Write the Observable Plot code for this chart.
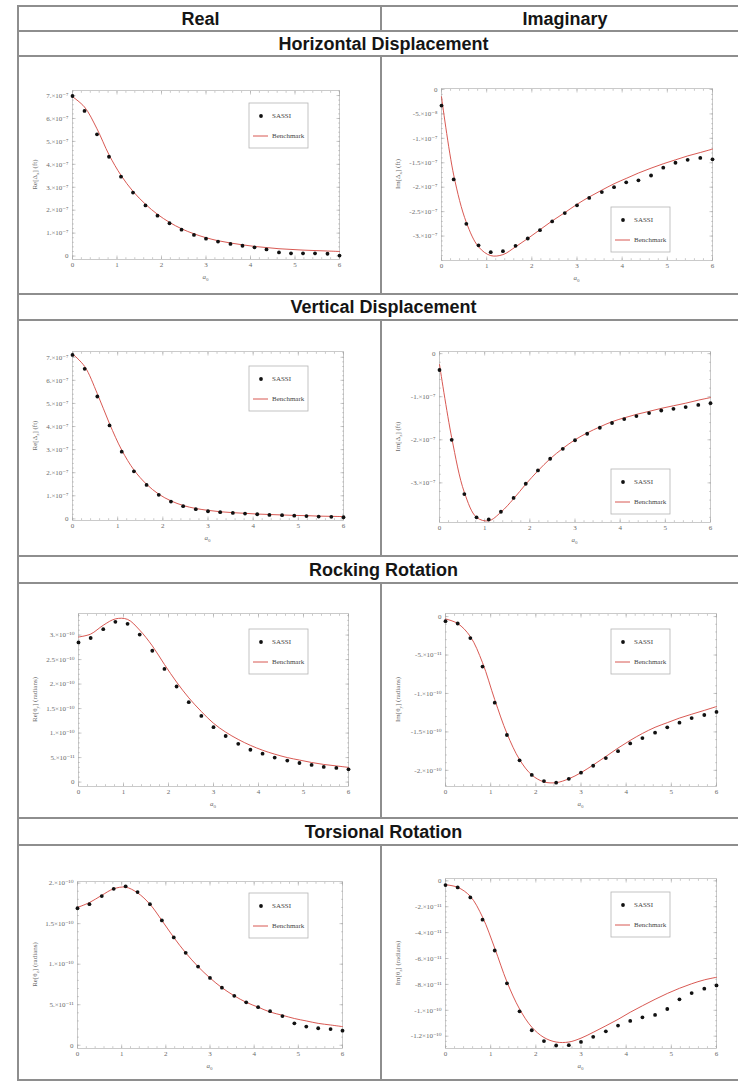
<!DOCTYPE html>
<html>
<head>
<meta charset="utf-8">
<script src="https://cdn.jsdelivr.net/npm/d3@7"></script>
<script src="https://cdn.jsdelivr.net/npm/@observablehq/plot@0.6"></script>
<style>
  body { margin: 0; background: #fff; }
  #page { position: relative; width: 738px; height: 1082px; overflow: hidden; background: #fff;
          font-family: "Liberation Sans", Arial, Helvetica, sans-serif; }
  .hline { position: absolute; height: 2px; background: #8e8e8e; }
  .vline { position: absolute; width: 2px; background: #8e8e8e; }
  .head { position: absolute; font-weight: bold; font-size: 18px; color: #151515;
          white-space: nowrap; transform: translate(-50%, -50%); line-height: 1; }
  .cell { position: absolute; }
  .cell svg { display: block; }
</style>
</head>
<body>
<div id="page"></div>
<script>
// Dimensionless frequency a0 at which both solutions are sampled
const a0 = [0, 0.27, 0.55, 0.82, 1.09, 1.36, 1.64, 1.91, 2.18, 2.45, 2.73, 3.0,
            3.27, 3.55, 3.82, 4.09, 4.36, 4.64, 4.91, 5.18, 5.45, 5.73, 6.0];

// Horizontal displacement (ft)
const horizRealSassi = [6.98e-7, 6.33e-7, 5.31e-7, 4.33e-7, 3.46e-7, 2.77e-7, 2.21e-7, 1.76e-7, 1.43e-7, 1.15e-7, 0.92e-7, 0.76e-7,
                        0.63e-7, 0.53e-7, 0.45e-7, 0.38e-7, 0.29e-7, 0.16e-7, 0.12e-7, 0.12e-7, 0.12e-7, 0.10e-7, 0.02e-7];
const horizRealBench = [6.95e-7, 6.50e-7, 5.55e-7, 4.42e-7, 3.52e-7, 2.82e-7, 2.26e-7, 1.82e-7, 1.47e-7, 1.19e-7, 0.97e-7, 0.80e-7,
                        0.67e-7, 0.57e-7, 0.49e-7, 0.42e-7, 0.37e-7, 0.32e-7, 0.29e-7, 0.26e-7, 0.24e-7, 0.22e-7, 0.20e-7];
const horizImagSassi = [-0.33e-7, -1.84e-7, -2.75e-7, -3.19e-7, -3.33e-7, -3.31e-7, -3.20e-7, -3.05e-7, -2.88e-7, -2.70e-7, -2.53e-7, -2.37e-7,
                        -2.22e-7, -2.10e-7, -2.00e-7, -1.90e-7, -1.86e-7, -1.76e-7, -1.60e-7, -1.50e-7, -1.44e-7, -1.40e-7, -1.43e-7];
const horizImagBench = [-0.15e-7, -1.75e-7, -2.72e-7, -3.22e-7, -3.40e-7, -3.38e-7, -3.22e-7, -3.05e-7, -2.87e-7, -2.69e-7, -2.52e-7, -2.35e-7,
                        -2.20e-7, -2.06e-7, -1.93e-7, -1.82e-7, -1.71e-7, -1.61e-7, -1.52e-7, -1.44e-7, -1.36e-7, -1.29e-7, -1.22e-7];

// Vertical displacement (ft)
const vertRealSassi = [7.10e-7, 6.50e-7, 5.30e-7, 4.05e-7, 2.91e-7, 2.06e-7, 1.47e-7, 1.04e-7, 0.75e-7, 0.55e-7, 0.42e-7, 0.33e-7,
                       0.29e-7, 0.26e-7, 0.23e-7, 0.20e-7, 0.17e-7, 0.16e-7, 0.14e-7, 0.12e-7, 0.10e-7, 0.09e-7, 0.07e-7];
const vertRealBench = [7.15e-7, 6.60e-7, 5.42e-7, 4.12e-7, 2.98e-7, 2.12e-7, 1.50e-7, 1.07e-7, 0.78e-7, 0.58e-7, 0.45e-7, 0.37e-7,
                       0.31e-7, 0.27e-7, 0.24e-7, 0.21e-7, 0.19e-7, 0.17e-7, 0.15e-7, 0.14e-7, 0.12e-7, 0.11e-7, 0.10e-7];
const vertImagSassi = [-0.38e-7, -2.00e-7, -3.26e-7, -3.80e-7, -3.85e-7, -3.67e-7, -3.35e-7, -3.02e-7, -2.71e-7, -2.44e-7, -2.21e-7, -2.01e-7,
                       -1.86e-7, -1.72e-7, -1.61e-7, -1.52e-7, -1.45e-7, -1.38e-7, -1.32e-7, -1.28e-7, -1.24e-7, -1.19e-7, -1.15e-7];
const vertImagBench = [-0.25e-7, -1.95e-7, -3.22e-7, -3.80e-7, -3.88e-7, -3.68e-7, -3.37e-7, -3.03e-7, -2.72e-7, -2.44e-7, -2.20e-7, -2.00e-7,
                       -1.84e-7, -1.70e-7, -1.58e-7, -1.49e-7, -1.41e-7, -1.34e-7, -1.27e-7, -1.21e-7, -1.15e-7, -1.08e-7, -1.02e-7];

// Rocking rotation (radians)
const rockRealSassi = [2.85e-10, 2.94e-10, 3.12e-10, 3.27e-10, 3.23e-10, 3.01e-10, 2.68e-10, 2.31e-10, 1.95e-10, 1.63e-10, 1.35e-10, 1.12e-10,
                       0.94e-10, 0.78e-10, 0.66e-10, 0.58e-10, 0.50e-10, 0.44e-10, 0.39e-10, 0.35e-10, 0.31e-10, 0.29e-10, 0.26e-10];
const rockRealBench = [2.96e-10, 3.02e-10, 3.20e-10, 3.33e-10, 3.32e-10, 3.10e-10, 2.78e-10, 2.40e-10, 2.04e-10, 1.72e-10, 1.44e-10, 1.20e-10,
                       1.02e-10, 0.87e-10, 0.75e-10, 0.65e-10, 0.57e-10, 0.50e-10, 0.45e-10, 0.40e-10, 0.36e-10, 0.33e-10, 0.30e-10];
const rockImagSassi = [-0.06e-10, -0.09e-10, -0.28e-10, -0.65e-10, -1.12e-10, -1.54e-10, -1.87e-10, -2.06e-10, -2.14e-10, -2.16e-10, -2.11e-10, -2.03e-10,
                       -1.94e-10, -1.84e-10, -1.75e-10, -1.65e-10, -1.58e-10, -1.51e-10, -1.44e-10, -1.38e-10, -1.32e-10, -1.28e-10, -1.24e-10];
const rockImagBench = [-0.03e-10, -0.09e-10, -0.26e-10, -0.60e-10, -1.08e-10, -1.52e-10, -1.86e-10, -2.06e-10, -2.15e-10, -2.16e-10, -2.11e-10, -2.03e-10,
                       -1.93e-10, -1.82e-10, -1.71e-10, -1.61e-10, -1.52e-10, -1.44e-10, -1.38e-10, -1.32e-10, -1.27e-10, -1.22e-10, -1.17e-10];

// Torsional rotation (radians)
const torsRealSassi = [1.69e-10, 1.74e-10, 1.84e-10, 1.93e-10, 1.96e-10, 1.89e-10, 1.74e-10, 1.54e-10, 1.33e-10, 1.14e-10, 0.97e-10, 0.83e-10,
                       0.71e-10, 0.61e-10, 0.53e-10, 0.47e-10, 0.42e-10, 0.36e-10, 0.27e-10, 0.23e-10, 0.21e-10, 0.20e-10, 0.18e-10];
const torsRealBench = [1.70e-10, 1.76e-10, 1.85e-10, 1.93e-10, 1.95e-10, 1.88e-10, 1.74e-10, 1.54e-10, 1.33e-10, 1.14e-10, 0.97e-10, 0.83e-10,
                       0.71e-10, 0.61e-10, 0.53e-10, 0.47e-10, 0.41e-10, 0.37e-10, 0.33e-10, 0.30e-10, 0.27e-10, 0.25e-10, 0.23e-10];
const torsImagSassi = [-0.33e-11, -0.51e-11, -1.28e-11, -3.00e-11, -5.38e-11, -7.92e-11, -10.08e-11, -11.54e-11, -12.38e-11, -12.72e-11, -12.69e-11, -12.44e-11,
                       -12.05e-11, -11.62e-11, -11.18e-11, -10.82e-11, -10.54e-11, -10.36e-11, -9.90e-11, -9.15e-11, -8.67e-11, -8.33e-11, -8.08e-11];
const torsImagBench = [-0.30e-11, -0.50e-11, -1.20e-11, -2.80e-11, -5.20e-11, -7.80e-11, -9.90e-11, -11.30e-11, -12.10e-11, -12.45e-11, -12.45e-11, -12.15e-11,
                       -11.70e-11, -11.20e-11, -10.70e-11, -10.15e-11, -9.65e-11, -9.15e-11, -8.70e-11, -8.30e-11, -7.95e-11, -7.65e-11, -7.45e-11];

// Tick values
const xTicks = [0, 1, 2, 3, 4, 5, 6];
const horizRealTicks = [0, 1e-7, 2e-7, 3e-7, 4e-7, 5e-7, 6e-7, 7e-7];
const horizImagTicks = [0, -5e-8, -1e-7, -1.5e-7, -2e-7, -2.5e-7, -3e-7];
const vertRealTicks = [0, 1e-7, 2e-7, 3e-7, 4e-7, 5e-7, 6e-7, 7e-7];
const vertImagTicks = [0, -1e-7, -2e-7, -3e-7];
const rockRealTicks = [0, 5e-11, 1e-10, 1.5e-10, 2e-10, 2.5e-10, 3e-10];
const rockImagTicks = [0, -5e-11, -1e-10, -1.5e-10, -2e-10];
const torsRealTicks = [0, 5e-11, 1e-10, 1.5e-10, 2e-10];
const torsImagTicks = [0, -2e-11, -4e-11, -6e-11, -8e-11, -1e-10, -1.2e-10];

// Text
const columnTitles = ["Real", "Imaginary"];
const sectionTitles = ["Horizontal Displacement", "Vertical Displacement", "Rocking Rotation", "Torsional Rotation"];
const legendNames = ["SASSI", "Benchmark"];

// ---------- table frame ----------
const page = d3.select("#page");
const L = 17, R = 750, MID = 380;
const rowLines = [5, 30, 55, 293, 319, 555, 582, 817, 844, 1079];

function hline(y) {
  page.append("div").attr("class", "hline")
    .style("left", L + "px").style("top", y + "px").style("width", (R - L) + "px");
}
function vline(x, y0, y1) {
  page.append("div").attr("class", "vline")
    .style("left", x + "px").style("top", y0 + "px").style("height", (y1 - y0 + 2) + "px");
}
rowLines.forEach(hline);
vline(L, rowLines[0], rowLines[rowLines.length - 1]);
vline(MID, rowLines[0], rowLines[1]);
[[2, 3], [4, 5], [6, 7], [8, 9]].forEach(([a, b]) => vline(MID, rowLines[a], rowLines[b]));

function head(text, cx, cy) {
  page.append("div").attr("class", "head").style("left", cx + "px").style("top", cy + "px").text(text);
}
head(columnTitles[0], (L + MID) / 2 + 2, 18.5);
head(columnTitles[1], (MID + R) / 2, 18.5);
const sectionCenters = [43.5, 307, 569.5, 831.5];
sectionTitles.forEach((t, i) => head(t, (L + R) / 2, sectionCenters[i]));

// ---------- tick label formatting (d.×10ⁿ) ----------
const SUP = {"-": "⁻", "0": "⁰", "1": "¹", "2": "²", "3": "³", "4": "⁴", "5": "⁵", "6": "⁶", "7": "⁷", "8": "⁸", "9": "⁹"};
function sci(v) {
  if (Math.abs(v) < 1e-30) return "0";
  const e = Math.floor(Math.log10(Math.abs(v)) + 1e-9);
  const m = Math.round(v / Math.pow(10, e) * 100) / 100;
  const ms = Number.isInteger(m) ? m + "." : String(m);
  return ms + "×10" + String(e).split("").map(c => SUP[c]).join("");
}

// ---------- panels ----------
const panels = [
  {x: 19,  y: 57,  w: 361, h: 236, m: [33, 41, 34, 53], sassi: horizRealSassi, bench: horizRealBench,
   yDomain: [-0.15e-7, 7.22e-7], yTicks: horizRealTicks, lab: ["Re[Δ", "x", "] (ft)"], legend: [230, 46]},
  {x: 382, y: 57,  w: 354, h: 236, m: [31, 24, 33, 59], sassi: horizImagSassi, bench: horizImagBench,
   yDomain: [-3.5e-7, 0.02e-7], yTicks: horizImagTicks, lab: ["Im[Δ", "x", "] (ft)"], legend: [229, 150]},
  {x: 19,  y: 321, w: 361, h: 234, m: [30, 37, 35, 53], sassi: vertRealSassi, bench: vertRealBench,
   yDomain: [-0.07e-7, 7.25e-7], yTicks: vertRealTicks, lab: ["Re[Δ", "z", "] (ft)"], legend: [230, 45]},
  {x: 382, y: 321, w: 354, h: 234, m: [30, 26, 33, 57], sassi: vertImagSassi, bench: vertImagBench,
   yDomain: [-3.92e-7, 0.05e-7], yTicks: vertImagTicks, lab: ["Im[Δ", "z", "] (ft)"], legend: [229, 148]},
  {x: 19,  y: 584, w: 361, h: 233, m: [29, 32, 31, 59], sassi: rockRealSassi, bench: rockRealBench,
   yDomain: [-0.09e-10, 3.44e-10], yTicks: rockRealTicks, lab: ["Re[θ", "y", "] (radians)"], legend: [230, 45]},
  {x: 382, y: 584, w: 354, h: 233, m: [29, 20, 31, 63], sassi: rockImagSassi, bench: rockImagBench,
   yDomain: [-2.21e-10, 0.04e-10], yTicks: rockImagTicks, lab: ["Im[θ", "y", "] (radians)"], legend: [229, 45]},
  {x: 19,  y: 846, w: 361, h: 233, m: [35, 38, 31, 58], sassi: torsRealSassi, bench: torsRealBench,
   yDomain: [-0.04e-10, 2.02e-10], yTicks: torsRealTicks, lab: ["Re[θ", "z", "] (radians)"], legend: [230, 47]},
  {x: 382, y: 846, w: 354, h: 233, m: [32, 20, 31, 63], sassi: torsImagSassi, bench: torsImagBench,
   yDomain: [-12.95e-11, 0.18e-11], yTicks: torsImagTicks, lab: ["Im[θ", "z", "] (radians)"], legend: [229, 46]}
];

const FRAME = "#bdbdbd";
const TICK = "#a8a8a8";
const LABEL = "#6a6a6a";
const RED = "#d4463f";
const SERIF = "'Liberation Serif', 'DejaVu Serif', 'Times New Roman', serif";

panels.forEach(p => {
  const [mt, mr, mb, ml] = p.m;
  const sassi = a0.map((x, i) => ({x, y: p.sassi[i]}));
  const bench = a0.map((x, i) => ({x, y: p.bench[i]}));
  const yStep = Math.abs(p.yTicks[1] - p.yTicks[0]) / 5;
  const yMinor = d3.range(Math.ceil(p.yDomain[0] / yStep) * yStep, p.yDomain[1], yStep);
  const xMinor = d3.range(0, 6.0001, 0.2);

  const tickAxes = (ticks, size) => [
    Plot.axisX({anchor: "bottom", ticks, tickSize: size, dy: -size, fill: "none", stroke: TICK, strokeWidth: 0.6, label: null}),
    Plot.axisX({anchor: "top", ticks, tickSize: size, dy: size, fill: "none", stroke: TICK, strokeWidth: 0.6, label: null})
  ];
  const tickAxesY = (ticks, size) => [
    Plot.axisY({anchor: "left", ticks, tickSize: size, dx: size, fill: "none", stroke: TICK, strokeWidth: 0.6, label: null}),
    Plot.axisY({anchor: "right", ticks, tickSize: size, dx: -size, fill: "none", stroke: TICK, strokeWidth: 0.6, label: null})
  ];

  const chart = Plot.plot({
    width: p.w,
    height: p.h,
    marginTop: mt, marginRight: mr, marginBottom: mb, marginLeft: ml,
    style: {fontFamily: SERIF, fontSize: "7px", color: LABEL, background: "transparent", overflow: "visible"},
    x: {domain: [0, 6], label: null},
    y: {domain: p.yDomain, label: null},
    marks: [
      Plot.frame({stroke: FRAME, strokeWidth: 0.8}),
      ...tickAxes(xTicks, 3.5),
      ...tickAxes(xMinor, 1.8),
      ...tickAxesY(p.yTicks, 3.5),
      ...tickAxesY(yMinor, 1.8),
      Plot.axisX({anchor: "bottom", ticks: xTicks, tickSize: 0, tickPadding: 3, tickFormat: d => String(d), fill: LABEL, label: null}),
      Plot.axisY({anchor: "left", ticks: p.yTicks, tickSize: 0, tickPadding: 4, tickFormat: sci, fill: LABEL, label: null}),
      Plot.line(bench, {x: "x", y: "y", stroke: RED, strokeWidth: 0.9, curve: "catmull-rom"}),
      Plot.dot(sassi, {x: "x", y: "y", r: 1.9, fill: "#111", stroke: "none"})
    ]
  });

  const svg = d3.select(chart);
  const fw = p.w - ml - mr, fh = p.h - mt - mb;

  // y-axis title with subscript
  const yt = svg.append("text")
    .attr("transform", `translate(18,${mt + fh / 2}) rotate(-90)`)
    .attr("text-anchor", "middle")
    .attr("fill", LABEL)
    .style("font-family", SERIF).style("font-size", "7px");
  yt.append("tspan").text(p.lab[0]);
  yt.append("tspan").attr("dy", 1.6).style("font-size", "5px").text(p.lab[1]);
  yt.append("tspan").attr("dy", -1.6).text(p.lab[2]);

  // x-axis title a₀
  const xt = svg.append("text")
    .attr("x", ml + fw / 2).attr("y", mt + fh + 20)
    .attr("text-anchor", "middle")
    .attr("fill", LABEL)
    .style("font-family", SERIF).style("font-size", "7px");
  xt.append("tspan").style("font-style", "italic").text("a");
  xt.append("tspan").attr("dy", 1.6).style("font-size", "5px").text("0");

  // legend box
  const lg = svg.append("g").attr("transform", `translate(${p.legend[0]},${p.legend[1]})`)
    .attr("text-anchor", "start")
    .style("font-family", SERIF).style("font-size", "7px");
  lg.append("rect").attr("width", 59).attr("height", 45).attr("fill", "#fff")
    .attr("stroke", "#b5b5b5").attr("stroke-width", 0.8);
  lg.append("circle").attr("cx", 12).attr("cy", 13).attr("r", 1.9).attr("fill", "#111");
  lg.append("text").attr("x", 23).attr("y", 13).attr("dy", "0.35em").attr("text-anchor", "start")
    .attr("fill", "#444").text(legendNames[0]);
  lg.append("line").attr("x1", 4).attr("x2", 19).attr("y1", 33).attr("y2", 33)
    .attr("stroke", RED).attr("stroke-width", 0.9);
  lg.append("text").attr("x", 23).attr("y", 33).attr("dy", "0.35em").attr("text-anchor", "start")
    .attr("fill", "#444").text(legendNames[1]);

  const cell = page.append("div").attr("class", "cell")
    .style("left", p.x + "px").style("top", p.y + "px");
  cell.node().appendChild(chart);
});
</script>
</body>
</html>
